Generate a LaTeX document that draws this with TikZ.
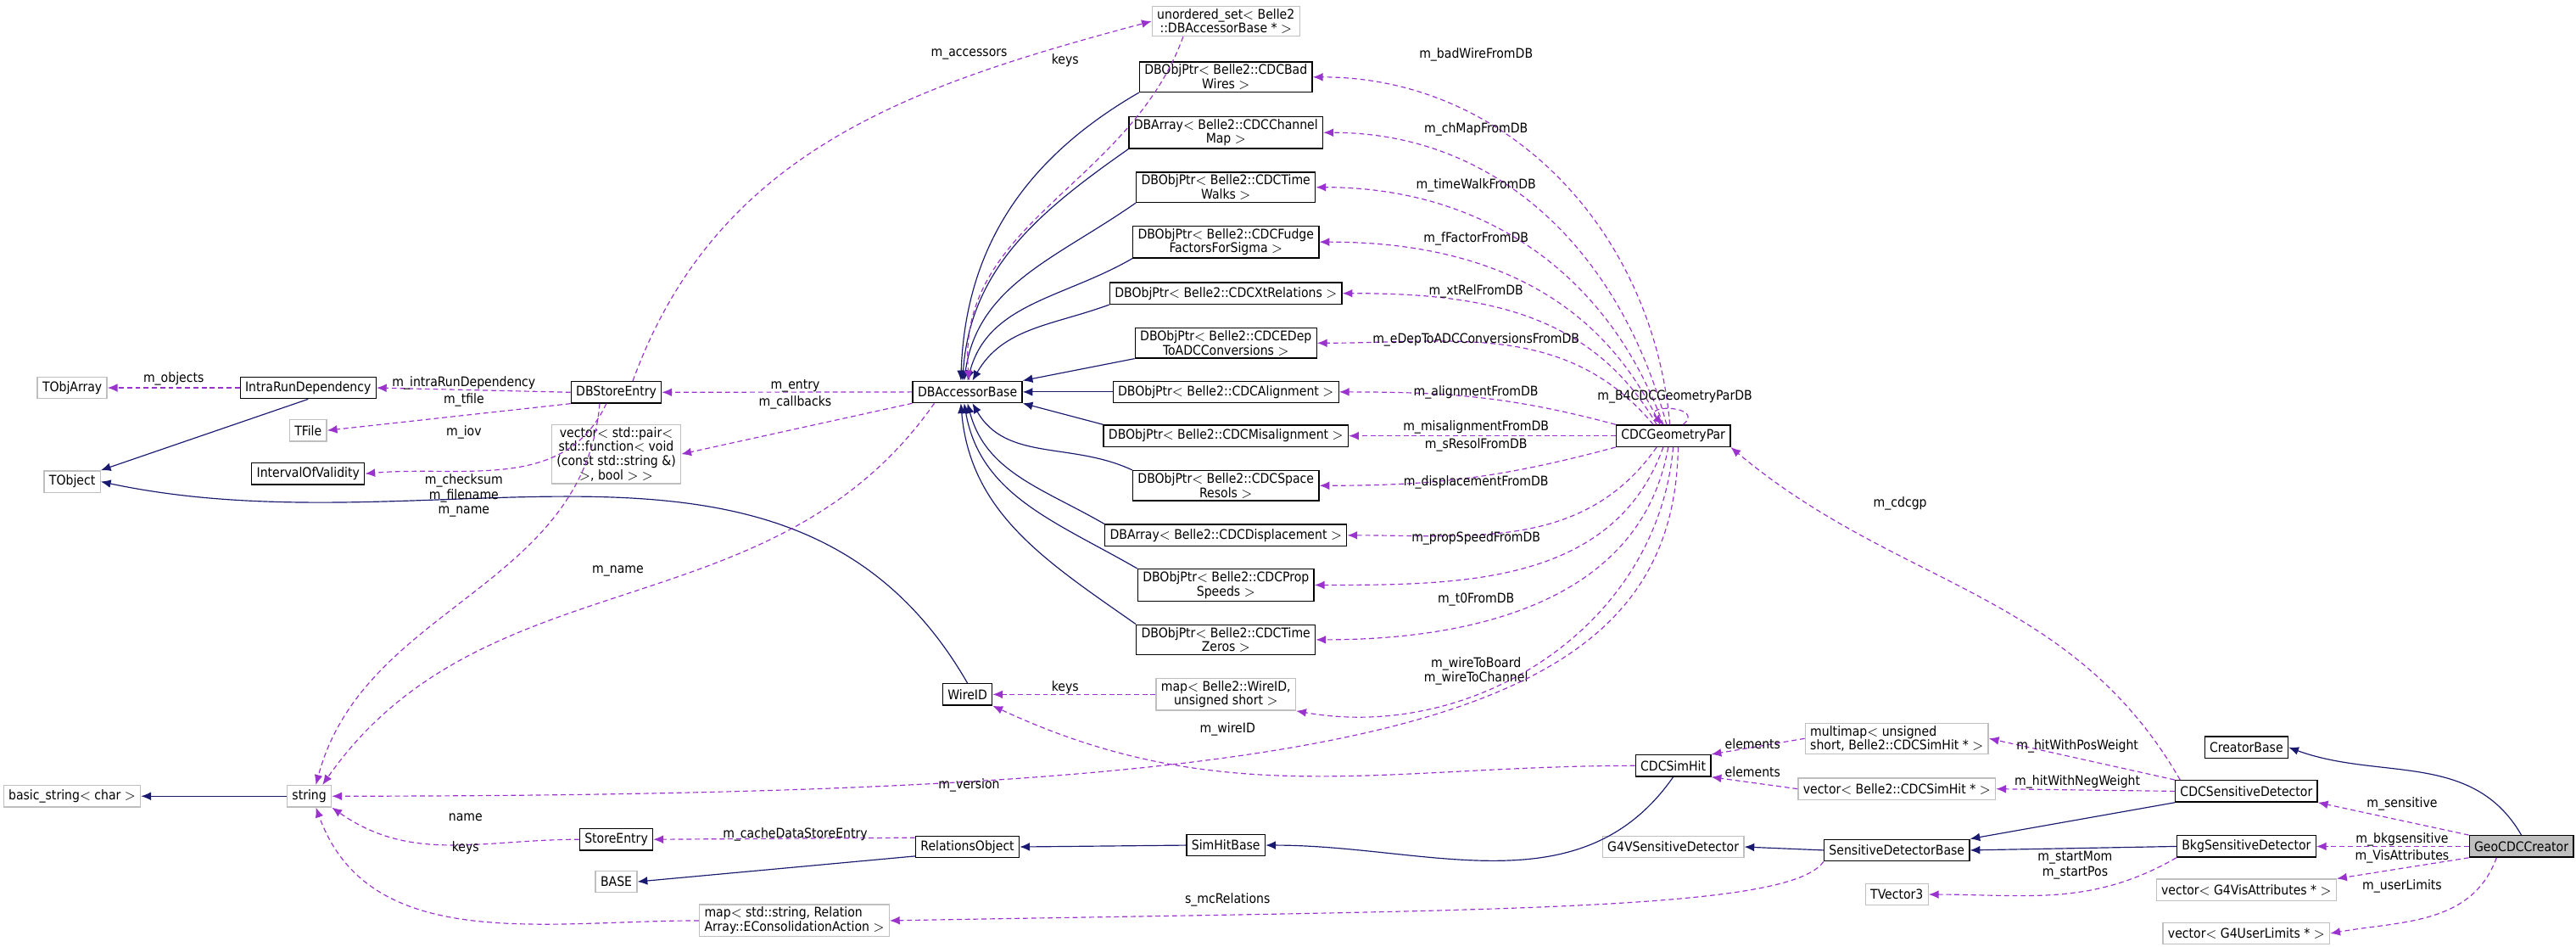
\documentclass[tikz,border=0pt]{standalone}
\usepackage{fontspec}
\setmainfont{DejaVu Sans Condensed}
\usetikzlibrary{arrows.meta}
\definecolor{inhcol}{HTML}{191970}
\definecolor{usecol}{HTML}{9A32CD}
\definecolor{extcol}{HTML}{BFBFBF}
\tikzset{cls/.style={rectangle, draw=black, line width=0.7pt, fill=white, font=\fontsize{8}{8.5}\selectfont, inner xsep=3pt, inner ysep=1.5pt, minimum height=13pt, align=center},
  ext/.style={cls, draw=extcol},
  lbl/.style={font=\fontsize{8}{9}\selectfont, inner sep=0pt, align=center},
  inh/.style={-{Latex[length=6pt,width=5pt]}, draw=inhcol, semithick},
  use/.style={-{Latex[length=6pt,width=5pt]}, draw=usecol, semithick, dash pattern=on 3pt off 2pt}}
\begin{document}
\begin{tikzpicture}[x=1pt,y=1pt]
		\useasboundingbox (0,0) rectangle (1555,-571);
		% left part
		\node[ext] (objarr) at (43.6,-234) {TObjArray};
		\node[cls] (irdep) at (186,-234) {IntraRunDependency};
		\node[ext] (tfile) at (186,-259.7) {TFile};
		\node[ext] (tobj) at (43.6,-290.6) {TObject};
		\node[cls] (iov) at (186,-285.8) {IntervalOfValidity};
		\node[cls] (dbse) at (372,-236.7) {DBStoreEntry};
		\node[ext] (cbvec) at (372,-274) {vector$<$ std::pair$<$\\ std::function$<$ void\\(const std::string \&)\\$>$, bool $>$ $>$};
		\node[ext] (bstr) at (43.5,-480.4) {basic\_string$<$ char $>$};
		\node[ext] (str) at (186.7,-480.4) {string};
		\node[cls] (sentry) at (372,-506.5) {StoreEntry};
		\node[ext] (base) at (372,-532) {BASE};
		\node[ext, align=left] (relmap) at (479.5,-555.5) {map$<$ std::string, Relation\\Array::EConsolidationAction $>$};
		% accessor column
		\node[cls] (dbacc) at (584,-236.5) {DBAccessorBase};
		\node[cls] (wireid) at (584,-419) {WireID};
		\node[cls] (relobj) at (584,-511) {RelationsObject};
		% db objects
		\node[ext] (accset) at (740,-12.8) {unordered\_set$<$ Belle2\\::DBAccessorBase * $>$};
		\node[cls] (badw) at (740,-46.5) {DBObjPtr$<$ Belle2::CDCBad\\Wires $>$};
		\node[cls] (chmap) at (740,-80) {DBArray$<$ Belle2::CDCChannel\\Map $>$};
		\node[cls] (twalk) at (740,-113) {DBObjPtr$<$ Belle2::CDCTime\\Walks $>$};
		\node[cls] (fudge) at (740,-146) {DBObjPtr$<$ Belle2::CDCFudge\\FactorsForSigma $>$};
		\node[cls] (xtrel) at (740,-177) {DBObjPtr$<$ Belle2::CDCXtRelations $>$};
		\node[cls] (edep) at (740,-207) {DBObjPtr$<$ Belle2::CDCEDep\\ToADCConversions $>$};
		\node[cls] (align) at (740,-236.5) {DBObjPtr$<$ Belle2::CDCAlignment $>$};
		\node[cls] (misal) at (740,-263) {DBObjPtr$<$ Belle2::CDCMisalignment $>$};
		\node[cls] (sresol) at (740,-293) {DBObjPtr$<$ Belle2::CDCSpace\\Resols $>$};
		\node[cls] (displ) at (740,-323) {DBArray$<$ Belle2::CDCDisplacement $>$};
		\node[cls] (pspeed) at (740,-353) {DBObjPtr$<$ Belle2::CDCProp\\Speeds $>$};
		\node[cls] (tzero) at (740,-386) {DBObjPtr$<$ Belle2::CDCTime\\Zeros $>$};
		\node[ext] (wiremap) at (740,-419) {map$<$ Belle2::WireID,\\unsigned short $>$};
		\node[cls] (shbase) at (740,-510) {SimHitBase};
		% right part
		\node[cls] (geopar) at (1010,-263) {CDCGeometryPar};
		\node[cls] (simhit) at (1010,-462) {CDCSimHit};
		\node[ext] (g4sd) at (1010,-511) {G4VSensitiveDetector};
		\node[ext, align=left] (posmap) at (1145,-445.6) {multimap$<$ unsigned\\ short, Belle2::CDCSimHit * $>$};
		\node[ext] (negvec) at (1145,-476) {vector$<$ Belle2::CDCSimHit * $>$};
		\node[cls] (sdbase) at (1145,-513) {SensitiveDetectorBase};
		\node[ext] (tvec) at (1145,-539.7) {TVector3};
		\node[cls] (creator) at (1356,-451) {CreatorBase};
		\node[cls] (cdcsd) at (1356,-477.4) {CDCSensitiveDetector};
		\node[cls] (bkgsd) at (1356,-510.7) {BkgSensitiveDetector};
		\node[ext] (visvec) at (1356,-537) {vector$<$ G4VisAttributes * $>$};
		\node[ext] (ulvec) at (1356,-563.2) {vector$<$ G4UserLimits * $>$};
		\node[cls, fill=extcol] (geocdc) at (1522,-510.7) {GeoCDCCreator};

		% inheritance
		\draw[inh] (irdep.south) -- (tobj.north east);
		\draw[inh] (wireid.north) to[out=120,in=-12] (tobj.east);
		\draw[inh] (str.west) -- (bstr.east);
		\draw[inh] (badw.south west) to[out=-150,in=88] ([xshift=-4pt]dbacc.north);
		\draw[inh] (chmap.south west) to[out=-145,in=86] ([xshift=-3pt]dbacc.north);
		\draw[inh] (twalk.south west) to[out=-145,in=82] ([xshift=-2pt]dbacc.north);
		\draw[inh] (fudge.south west) to[out=-150,in=75] (dbacc.north);
		\draw[inh] (xtrel.south west) to[out=-160,in=60] ([xshift=3pt]dbacc.north);
		\draw[inh] (edep.south west) -- (dbacc.north east);
		\draw[inh] (align.west) -- (dbacc.east);
		\draw[inh] (misal.north west) -- (dbacc.south east);
		\draw[inh] (sresol.north west) to[out=155,in=-60] ([xshift=3pt]dbacc.south);
		\draw[inh] (displ.north west) to[out=150,in=-75] (dbacc.south);
		\draw[inh] (pspeed.north west) to[out=150,in=-80] ([xshift=-2pt]dbacc.south);
		\draw[inh] (tzero.north west) to[out=145,in=-85] ([xshift=-4pt]dbacc.south);
		\draw[inh] (relobj.190) -- (base.east);
		\draw[inh] (shbase.west) -- (relobj.east);
		\draw[inh] (simhit.south) to[out=-125,in=0] (shbase.east);
		\draw[inh] (sdbase.west) -- (g4sd.east);
		\draw[inh] (cdcsd.south west) -- (sdbase.north east);
		\draw[inh] (bkgsd.west) -- (sdbase.east);
		\draw[inh] (geocdc.north) to[out=120,in=-20] (creator.east);

		% usage
		\draw[use] (irdep.west) -- node[lbl, above=1pt] (lobj) {m\_objects} (objarr.east);
		\draw[use] (dbse.west) -- (irdep.east);
		\node[lbl] (lird) at (280,-231) {m\_intraRunDependency};
		\draw[use] (dbse.south west) -- (tfile.east);
		\node[lbl] (ltf) at (280,-241.5) {m\_tfile};
		\draw[use] ([xshift=-6pt]dbse.south) to[out=-115,in=5] (iov.east);
		\node[lbl] (liov) at (280,-260.6) {m\_iov};
		\draw[use] ([xshift=-10pt]dbse.south) to[out=-95,in=75] ([xshift=4pt]str.north);
		\node[lbl] (lchk) at (280,-299) {m\_checksum\\m\_filename\\m\_name};
		\draw[use] ([xshift=10pt]dbse.north) to[out=70,in=195] (accset.west);
		\node[lbl] (lacc) at (585,-33) {m\_accessors};
		\draw[use] (accset.200) to[out=-110,in=95] ([xshift=1pt]dbacc.north);
		\node[lbl] (lkey) at (643,-36.6) {keys};
		\draw[use] (dbacc.west) -- (dbse.east);
		\node[lbl] (lent) at (480,-232.7) {m\_entry};
		\draw[use] (dbacc.south west) -- (cbvec.east);
		\node[lbl] (lcb) at (480,-242.8) {m\_callbacks};
		\draw[use] ([xshift=-20pt]dbacc.south) to[out=-125,in=55] ([xshift=8pt]str.north);
		\node[lbl] (lnm) at (373,-344.7) {m\_name};
		\draw[use] (sentry.west) to[out=180,in=-35] (str.south east);
		\node[lbl] (lname) at (281,-493.4) {name};
		\draw[use] (relmap.west) to[out=180,in=-70] ([xshift=4pt]str.south);
		\node[lbl] (lkeys) at (281,-511.6) {keys};
		\draw[use] (relobj.170) -- (sentry.east);
		\node[lbl] (lcache) at (480,-503.6) {m\_cacheDataStoreEntry};
		% geometry parameters
		\draw[use] ([xshift=-2pt]geopar.north) to[out=95,in=0] (badw.east);
		\node[lbl] (lbw) at (891,-33) {m\_badWireFromDB};
		\draw[use] ([xshift=-4pt]geopar.north) to[out=105,in=0] (chmap.east);
		\node[lbl] (lcm) at (891,-78) {m\_chMapFromDB};
		\draw[use] ([xshift=-6pt]geopar.north) to[out=110,in=0] (twalk.east);
		\node[lbl] (ltw) at (891,-112) {m\_timeWalkFromDB};
		\draw[use] ([xshift=-8pt]geopar.north) to[out=115,in=0] (fudge.east);
		\node[lbl] (lff) at (891,-144) {m\_fFactorFromDB};
		\draw[use] ([xshift=-10pt]geopar.north) to[out=120,in=0] (xtrel.east);
		\node[lbl] (lxt) at (891,-175.6) {m\_xtRelFromDB};
		\draw[use] ([xshift=-12pt]geopar.north) to[out=130,in=0] (edep.east);
		\node[lbl] (led) at (891,-205) {m\_eDepToADCConversionsFromDB};
		\draw[use] (geopar.north west) to[out=165,in=0] (align.east);
		\node[lbl] (lal) at (891,-237) {m\_alignmentFromDB};
		\draw[use] (geopar.west) -- (misal.east);
		\node[lbl] (lmis) at (891,-258) {m\_misalignmentFromDB};
		\node[lbl] (lsr) at (891,-268.6) {m\_sResolFromDB};
		\draw[use] (geopar.south west) to[out=-165,in=0] (sresol.east);
		\draw[use] ([xshift=-10pt]geopar.south) to[out=-125,in=0] (displ.east);
		\node[lbl] (ldp) at (891,-291) {m\_displacementFromDB};
		\draw[use] ([xshift=-6pt]geopar.south) to[out=-110,in=0] (pspeed.east);
		\node[lbl] (lps) at (891,-325) {m\_propSpeedFromDB};
		\draw[use] ([xshift=-3pt]geopar.south) to[out=-100,in=0] (tzero.east);
		\node[lbl] (ltz) at (891,-362) {m\_t0FromDB};
		\draw[use] (geopar.south) to[out=-95,in=-10] (wiremap.south east);
		\node[lbl] (lwb) at (891,-405) {m\_wireToBoard\\m\_wireToChannel};
		\draw[use] ([xshift=3pt]geopar.south) .. controls (1010,-440) and (820,-480) .. (str.east);
		\node[lbl] (lver) at (585,-474) {m\_version};
		\draw[use] ([xshift=6pt]geopar.north) .. controls (1030,-245) and (990,-243) .. ([xshift=-6pt]geopar.north);
		\node[lbl] (lself) at (1011,-239.5) {m\_B4CDCGeometryParDB};
		\draw[use] (wiremap.west) -- (wireid.east);
		\node[lbl] (lwk) at (643,-415) {keys};
		\draw[use] (simhit.west) to[out=180,in=-25] (wireid.south east);
		\node[lbl] (lwid) at (741,-440) {m\_wireID};
		% detector part
		\draw[use] (posmap.west) -- (simhit.north east);
		\node[lbl] (lel1) at (1058,-449) {elements};
		\draw[use] (negvec.west) -- (simhit.south east);
		\node[lbl] (lel2) at (1058,-466) {elements};
		\draw[use] ([xshift=-40pt]cdcsd.north) to[out=120,in=-40] (geopar.south east);
		\node[lbl] (lgp) at (1147,-303.6) {m\_cdcgp};
		\draw[use] (cdcsd.north west) -- (posmap.east);
		\node[lbl] (lpos) at (1254,-450.4) {m\_hitWithPosWeight};
		\draw[use] (cdcsd.west) -- (negvec.east);
		\node[lbl] (lneg) at (1254,-471.7) {m\_hitWithNegWeight};
		\draw[use] (bkgsd.south west) to[out=-150,in=0] (tvec.east);
		\node[lbl] (lst) at (1252.6,-522) {m\_startMom\\m\_startPos};
		\draw[use] (sdbase.south west) .. controls (1080,-550) and (900,-549) .. (relmap.east);
		\node[lbl] (lmc) at (741,-543) {s\_mcRelations};
		\draw[use] (geocdc.north west) -- (cdcsd.south east);
		\node[lbl] (lsen) at (1450,-484.9) {m\_sensitive};
		\draw[use] (geocdc.west) -- (bkgsd.east);
		\node[lbl] (lbkg) at (1450,-506.7) {m\_bkgsensitive};
		\draw[use] (geocdc.south west) -- (visvec.north east);
		\node[lbl] (lvis) at (1450,-517) {m\_VisAttributes};
		\draw[use] ([xshift=-15pt]geocdc.south) to[out=-110,in=10] (ulvec.east);
		\node[lbl] (lul) at (1450,-534.7) {m\_userLimits};
\end{tikzpicture}
\end{document}
